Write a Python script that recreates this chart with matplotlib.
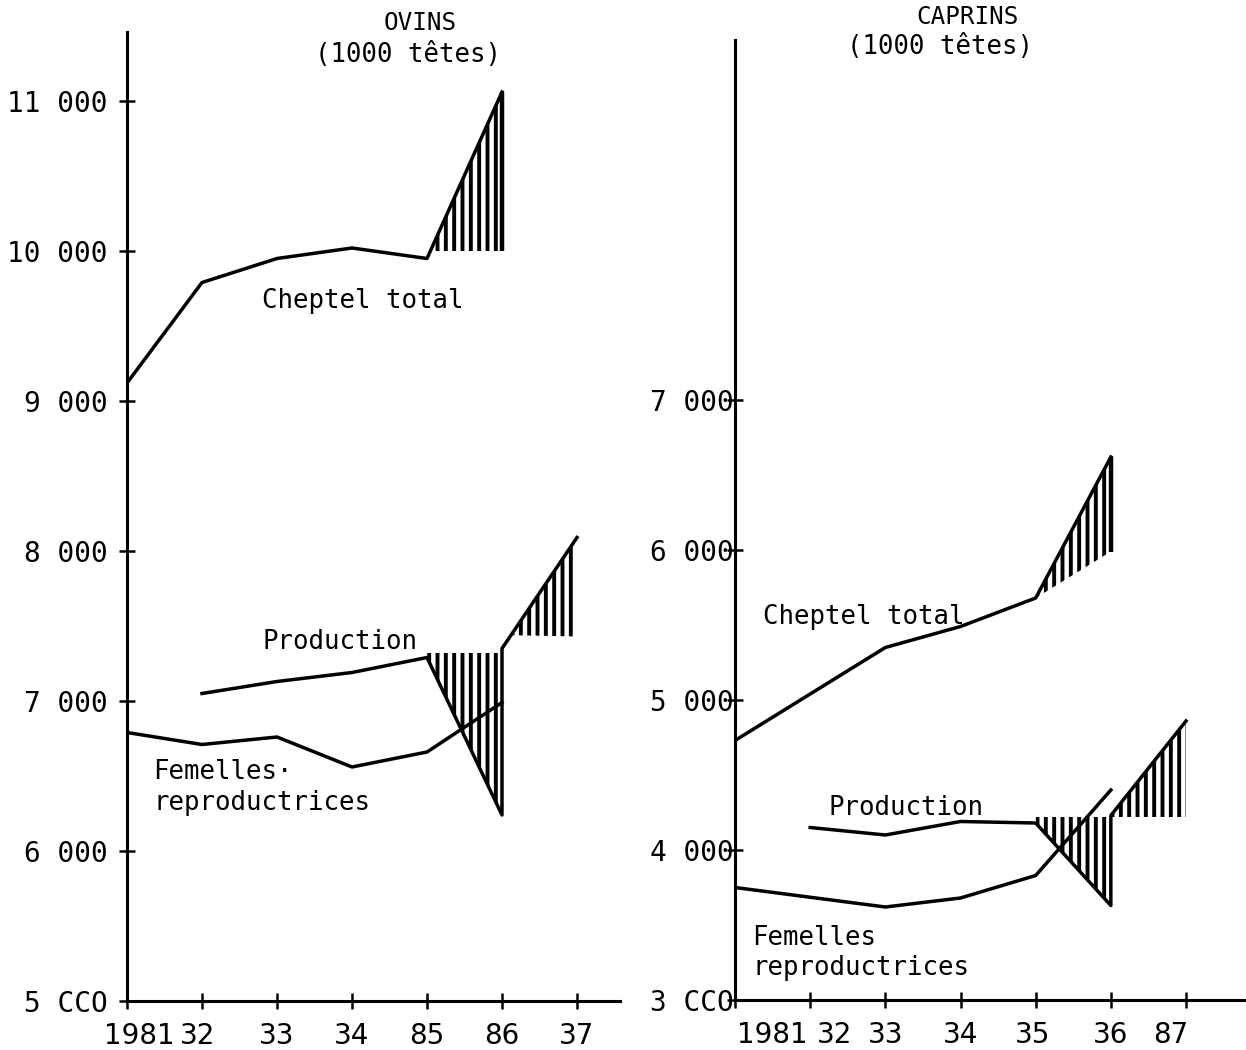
import numpy as np
import matplotlib
matplotlib.use('Agg')
from matplotlib import pyplot as plt
from matplotlib import transforms

plt.rcParams['font.family'] = ['DejaVu Sans Mono', 'DejaVu Sans']
plt.rcParams['hatch.linewidth'] = 2.8
plt.rcParams['hatch.color'] = 'black'

# ---- données (1000 têtes) ----
tick_years = [1981, 1982, 1983, 1984, 1985, 1986, 1987]

# OVINS
ov_xlabels = ['1981', '32', '33', '34', '85', '86', '37']
ov_ylabels = ['5 CCO', '6 000', '7 000', '8 000', '9 000', '10 000', '11 000']
ov_yticks = [5000, 6000, 7000, 8000, 9000, 10000, 11000]
ov_cheptel_years = [1981, 1982, 1983, 1984, 1985, 1986]
ov_cheptel = [9120, 9790, 9950, 10020, 9950, 11060]
ov_cheptel_floor = [10000, 10000]          # base hachurée 85-86
ov_prod_years = [1982, 1983, 1984, 1985, 1986, 1986, 1987]
ov_prod = [7050, 7130, 7190, 7290, 6240, 7350, 8090]
ov_prod_cap = [7320, 7320]                 # haut des hachures 85-86
ov_prod_floor = [7440, 7430]               # bas des hachures 86-87
ov_fem_years = [1981, 1982, 1983, 1984, 1985, 1986]
ov_fem = [6790, 6710, 6760, 6560, 6660, 6990]

# CAPRINS
cp_xlabels = ['1981', '32', '33', '34', '35', '36', '87']
cp_ylabels = ['3 CCO', '4 000', '5 000', '6 000', '7 000']
cp_yticks = [3000, 4000, 5000, 6000, 7000]
cp_cheptel_years = [1981, 1983, 1984, 1985, 1986]
cp_cheptel = [4730, 5350, 5490, 5680, 6620]
cp_cheptel_floor = [5680, 5990]
cp_prod_years = [1982, 1983, 1984, 1985, 1986, 1986, 1987]
cp_prod = [4150, 4100, 4190, 4180, 3630, 4230, 4860]
cp_prod_cap = [4220, 4220]
cp_prod_floor = [4220, 4220]
cp_fem_years = [1981, 1983, 1984, 1985, 1986]
cp_fem = [3750, 3620, 3680, 3830, 4400]


def hatch(ax, x, top, bottom):
    top = np.asarray(top, dtype=float)
    bottom = np.asarray(bottom, dtype=float)
    ax.fill_between(x, top, bottom, where=top >= bottom, interpolate=True,
                    facecolor='none', edgecolor='black', linewidth=0, hatch='||')


def style_axis(ax, xlabels, yticks, ylabels, ypad, label_dx):
    for side in ['top', 'right']:
        ax.spines[side].set_visible(False)
    for side in ['left', 'bottom']:
        ax.spines[side].set_linewidth(2.2)
    ax.set_xticks(tick_years)
    ax.set_xticklabels(xlabels, fontsize=20, family='DejaVu Sans')
    ax.set_yticks(yticks)
    ax.set_yticklabels(ylabels, fontsize=20)
    ax.tick_params(axis='x', direction='inout', length=12, width=1.8, pad=9)
    ax.tick_params(axis='y', direction='inout', length=12, width=1.8, pad=ypad)
    # certaines étiquettes sont décalées vers la droite sur l'original
    for lab, dx in zip(ax.get_xticklabels(), label_dx):
        if dx:
            lab.set_transform(lab.get_transform() +
                              transforms.ScaledTranslation(dx / 100, 0, ax.figure.dpi_scale_trans))


fig = plt.figure(figsize=(12.46, 10.5), dpi=100)
ax1 = fig.add_axes([127 / 1246, 49 / 1050, 493 / 1246, 969 / 1050])
ax2 = fig.add_axes([735 / 1246, 50 / 1050, 511 / 1246, 960 / 1050])

lw = 2.5
txt = dict(fontsize=18.5, va='center', ha='left')

# ---- OVINS ----
ax1.plot(ov_cheptel_years, ov_cheptel, color='black', lw=lw)
hatch(ax1, ov_cheptel_years[-2:], ov_cheptel[-2:], ov_cheptel_floor)
ax1.vlines(ov_cheptel_years[-1], ov_cheptel_floor[-1], ov_cheptel[-1], color='black', lw=3.2)
ax1.plot(ov_prod_years, ov_prod, color='black', lw=lw)
hatch(ax1, ov_prod_years[3:5], ov_prod_cap, ov_prod[3:5])
hatch(ax1, ov_prod_years[5:], ov_prod[5:], ov_prod_floor)
ax1.plot(ov_fem_years, ov_fem, color='black', lw=lw)
ax1.text(1982.8, 9670, 'Cheptel total', **txt)
ax1.text(1982.81, 7395, 'Production', **txt)
ax1.text(1981.35, 6525, 'Femelles·', **txt)
ax1.text(1981.35, 6320, 'reproductrices', **txt)
ax1.set_xlim(1981, 1981 + 493 / 75)
ax1.set_ylim(5000, 11460)
style_axis(ax1, ov_xlabels, ov_yticks, ov_ylabels, 8, [12, -4, 0, 0, 0, 0, 0])

# ---- CAPRINS ----
ax2.plot(cp_cheptel_years, cp_cheptel, color='black', lw=lw)
hatch(ax2, cp_cheptel_years[-2:], cp_cheptel[-2:], cp_cheptel_floor)
ax2.vlines(cp_cheptel_years[-1], cp_cheptel_floor[-1], cp_cheptel[-1], color='black', lw=3.2)
ax2.plot(cp_prod_years, cp_prod, color='black', lw=lw)
hatch(ax2, cp_prod_years[3:5], cp_prod_cap, cp_prod[3:5])
hatch(ax2, cp_prod_years[5:], cp_prod[5:], cp_prod_floor)
ax2.plot(cp_fem_years, cp_fem, color='black', lw=lw)
ax2.text(1981.37, 5553, 'Cheptel total', **txt)
ax2.text(1982.24, 4280, 'Production', **txt)
ax2.text(1981.23, 3413, 'Femelles', **txt)
ax2.text(1981.23, 3213, 'reproductrices', **txt)
ax2.set_xlim(1981, 1981 + 511 / 75.17)
ax2.set_ylim(3000, 9400)
style_axis(ax2, cp_xlabels, cp_yticks, cp_ylabels, -5, [37, 24, 0, 0, -3, 0, -15])

fig.text(420 / 1246, 1 - 23 / 1050, 'OVINS', fontsize=17.5, ha='center', va='center')
fig.text(408 / 1246, 1 - 55 / 1050, '(1000 têtes)', fontsize=18.5, ha='center', va='center')
fig.text(968 / 1246, 1 - 17 / 1050, 'CAPRINS', fontsize=17.5, ha='center', va='center')
fig.text(940 / 1246, 1 - 47 / 1050, '(1000 têtes)', fontsize=18.5, ha='center', va='center')

fig.savefig('out.png', dpi=100)
